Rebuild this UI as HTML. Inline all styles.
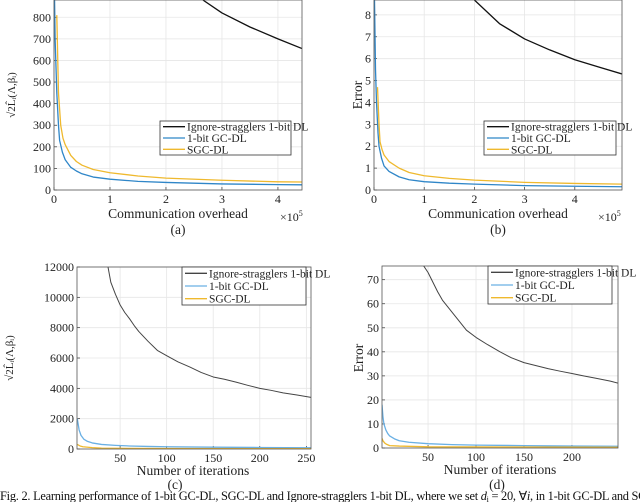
<!DOCTYPE html>
<html><head><meta charset="utf-8"><style>
html,body{margin:0;padding:0;background:#fff;width:640px;height:502px;overflow:hidden}
svg{position:absolute;left:0;top:0;font-family:"Liberation Serif",serif}
text{font-family:"Liberation Serif",serif}
</style></head><body>
<svg id="s" width="640" height="502" viewBox="0 0 640 502">
<text x="0" y="500" font-size="12.4" textLength="675" fill="#111">Fig. 2. Learning performance of 1-bit GC-DL, SGC-DL and Ignore-stragglers 1-bit DL, where we set <tspan font-style="italic">d</tspan><tspan font-size="8" dy="2">i</tspan><tspan dy="-2"> = 20, ∀</tspan><tspan font-style="italic">i</tspan>, in 1-bit GC-DL and SGC-DL</text>
</svg>
<script>
// ---- chart (a) ----
const aBlackX=[2.66,3.0,3.5,4.0,4.43];
const aBlackY=[880,820,755,700,655];
const aBlueX=[0.01,0.02,0.05,0.08,0.1,0.15,0.2,0.3,0.4,0.5,0.7,1,1.5,2,3,4,4.43];
const aBlueY=[880,700,450,300,230,175,140,105,88,75,60,50,40,35,28,25,24];
const aYelX=[0.05,0.08,0.12,0.16,0.2,0.3,0.4,0.5,0.7,1,1.5,2,3,4,4.43];
const aYelY=[810,450,300,240,210,160,132,115,95,80,65,55,45,38,37];
const aXTicks=[0,1,2,3,4];
const aYTicks=[0,100,200,300,400,500,600,700,800];
// ---- chart (b) ----
const bBlackX=[2.0,2.5,3.0,3.5,4.0,4.5,4.94];
const bBlackY=[8.68,7.6,6.9,6.4,5.95,5.6,5.3];
const bBlueX=[0.01,0.03,0.05,0.08,0.1,0.15,0.2,0.3,0.5,0.7,1,1.5,2,3,4,4.94];
const bBlueY=[8.68,5.5,4,2.6,2,1.45,1.1,0.85,0.6,0.47,0.38,0.31,0.27,0.2,0.17,0.15];
const bYelX=[0.07,0.1,0.12,0.16,0.2,0.3,0.5,0.7,1,1.5,2,3,4,4.94];
const bYelY=[4.7,3.0,2.2,1.85,1.6,1.3,1.0,0.8,0.65,0.53,0.45,0.35,0.3,0.27];
const bXTicks=[0,1,2,3,4];
const bYTicks=[0,1,2,3,4,5,6,7,8];
// ---- chart (c) ----
const cBlackX=[37,40,45,50,55,60,65,70,80,90,100,112,125,137,150,162,175,187,200,212,225,240,255];
const cBlackY=[12000,11000,10200,9500,9000,8600,8150,7750,7100,6500,6150,5750,5400,5050,4750,4600,4400,4200,4000,3870,3700,3560,3400];
const cBlueX=[4,6,8,11,15,20,30,45,60,80,100,150,200,255];
const cBlueY=[2000,1250,900,650,500,400,300,240,200,170,150,120,100,80];
const cYelX=[4,7,10,20,30,60,100,255];
const cYelY=[300,200,150,90,60,40,30,20];
const cXTicks=[50,100,150,200,250];
const cYTicks=[0,2000,4000,6000,8000,10000,12000];
// ---- chart (d) ----
const dBlackX=[45,50,55,60,65,70,80,90,100,112,125,137,150,162,175,187,200,212,225,240,248];
const dBlackY=[76,73,69,65,61.5,59,54,49,46,43,40,37.5,35.5,34.3,33,32,31,30,29,27.8,27];
const dBlueX=[2,3,4,6,8,10,15,20,30,50,75,100,150,200,248];
const dBlueY=[18,13,10,7.5,6,5,3.8,3,2.4,1.8,1.4,1.2,1,0.8,0.7];
const dYelX=[2,3,5,7,10,20,50,248];
const dYelY=[4,3,2,1.5,1,0.8,0.5,0.3];
const dXTicks=[50,100,150,200];
const dYTicks=[0,10,20,30,40,50,60,70];

const NS="http://www.w3.org/2000/svg";
const svg=document.getElementById('s');
function mk(tag,attrs,parent,txt){const e=document.createElementNS(NS,tag);for(const k in attrs)e.setAttribute(k,attrs[k]);if(txt!==undefined)e.textContent=txt;(parent||svg).appendChild(e);return e;}

function chart(o){
  const g=mk('g',{});
  
  
  const sx=v=>o.L+(v-o.x0)/(o.x1-o.x0)*(o.R-o.L);
  const sy=v=>o.B-(v-o.y0)/(o.y1-o.y0)*(o.B-o.T);
  mk('rect',{x:o.L,y:o.T,width:o.R-o.L,height:o.B-o.T,fill:'#fff'},g);
  o.xt.forEach(t=>{const x=sx(t);
    const l=mk('line',{x1:x,x2:x,y1:o.T,y2:o.B,stroke:'#e6e6e6','stroke-width':0.8},g);
    
    mk('line',{x1:x,x2:x,y1:o.B,y2:o.B-3,stroke:'#333','stroke-width':0.7},g);
    const tx=mk('text',{x:x,y:o.B+13,'font-size':12,'text-anchor':'middle',fill:'#222'},g,String(t));
    
  });
  o.yt.forEach(t=>{const y=sy(t);
    const l=mk('line',{x1:o.L,x2:o.R,y1:y,y2:y,stroke:'#e6e6e6','stroke-width':0.8},g);
    
    mk('line',{x1:o.L,x2:o.L+3,y1:y,y2:y,stroke:'#333','stroke-width':0.7},g);
    const tx=mk('text',{x:o.L-3,y:y+4,'font-size':12,'text-anchor':'end',fill:'#222'},g,String(t));
    
  });
  const cp='clip'+o.name;
  const cl=mk('clipPath',{id:cp},g);mk('rect',{x:o.L,y:o.T,width:o.R-o.L,height:o.B-o.T},cl);
  o.series.forEach(s=>{
    const d=s.x.map((v,i)=>(i?'L':'M')+sx(v).toFixed(2)+','+sy(s.y[i]).toFixed(2)).join(' ');
    const p=mk('path',{d:d,fill:'none',stroke:s.c,'stroke-width':s.w||1.3,'stroke-linejoin':'round','clip-path':'url(#'+cp+')'},g);
    
  });
  const ax=mk('rect',{x:o.L,y:o.T,width:o.R-o.L,height:o.B-o.T,fill:'none',stroke:'#555','stroke-width':0.8},g);
  
  const lg=mk('g',{},g);
  
  mk('rect',{x:o.lg[0],y:o.lg[1],width:o.lg[2],height:o.lg[3],fill:'#fff',stroke:'#333','stroke-width':0.8},lg);
  const names=['Ignore-stragglers 1-bit DL','1-bit GC-DL','SGC-DL'];
  const rh=o.lg[3]/3;
  o.series.forEach((s,i)=>{const y=o.lg[1]+rh*(i+0.5);
    const e=mk('g',{},lg);
    
    mk('line',{x1:o.lg[0]+3,x2:o.lg[0]+25,y1:y,y2:y,stroke:s.c,'stroke-width':1.3},e);
    mk('text',{x:o.lg[0]+27,y:y+4,'font-size':11.5,fill:'#222'},e,names[i]);
  });
  return {g,sx,sy};
}
const K='#111',Bc='#2f86c8',Yc='#efb92e';
chart({name:'chart-a',L:54,R:302,T:0,B:190,x0:0,x1:4.43,y0:0,y1:880,xt:aXTicks,yt:aYTicks,lg:[160,121,131,34],
 series:[{x:aBlackX,y:aBlackY,c:K,n:'line-ignore-stragglers'},{x:aBlueX,y:aBlueY,c:Bc,n:'line-1bit-gc-dl'},{x:aYelX,y:aYelY,c:Yc,n:'line-sgc-dl'}]});
chart({name:'chart-b',L:374,R:622,T:0,B:190,x0:0,x1:4.94,y0:0,y1:8.68,xt:bXTicks,yt:bYTicks,lg:[484,121,132,34],
 series:[{x:bBlackX,y:bBlackY,c:K,n:'line-ignore-stragglers'},{x:bBlueX,y:bBlueY,c:Bc,n:'line-1bit-gc-dl'},{x:bYelX,y:bYelY,c:Yc,n:'line-sgc-dl'}]});
chart({name:'chart-c',L:77,R:311,T:267,B:449,x0:3.7,x1:255,y0:0,y1:12000,xt:cXTicks,yt:cYTicks,lg:[182,267,124,38],
 series:[{x:cBlackX,y:cBlackY,c:'#444',n:'line-ignore-stragglers',w:1},{x:cBlueX,y:cBlueY,c:'#6ab0e4',n:'line-1bit-gc-dl'},{x:cYelX,y:cYelY,c:Yc,n:'line-sgc-dl'}]});
chart({name:'chart-d',L:382,R:618,T:266,B:448,x0:2,x1:248,y0:0,y1:75.7,xt:dXTicks,yt:dYTicks,lg:[488,266,124,38],
 series:[{x:dBlackX,y:dBlackY,c:'#444',n:'line-ignore-stragglers',w:1},{x:dBlueX,y:dBlueY,c:'#6ab0e4',n:'line-1bit-gc-dl'},{x:dYelX,y:dYelY,c:Yc,n:'line-sgc-dl'}]});

function label(x,y,txt,name,rot,size){
  const t=mk('text',{x:x,y:y,'font-size':size||13.5,'text-anchor':'middle',fill:'#222',transform:rot?'rotate(-90 '+x+' '+y+')':''},svg,txt);
  return t;
}
label(178,218,'Communication overhead','x-axis-title-a');
label(498,218,'Communication overhead','x-axis-title-b');
label(193,475,'Number of iterations','x-axis-title-c');
label(500,474,'Number of iterations','x-axis-title-d');
label(178,234,'(a)','subcaption-a');label(498,234,'(b)','subcaption-b');
label(175,489,'(c)','subcaption-c');label(497,489,'(d)','subcaption-d');
label(362,95,'Error','y-axis-title-b',true);
label(363,358,'Error','y-axis-title-d',true);
label(15,95,'√2L̂ᵢ(Λ,βᵢ)','y-axis-title-a',true,11);
label(13,358,'√2L̂ᵢ(Λ,βᵢ)','y-axis-title-c',true,11);
const e1=mk('text',{x:280,y:221,'font-size':12,fill:'#222'},svg);e1.innerHTML='×10<tspan font-size="8" dy="-5">5</tspan>';

const e2=mk('text',{x:598,y:221,'font-size':12,fill:'#222'},svg);e2.innerHTML='×10<tspan font-size="8" dy="-5">5</tspan>';

</script>
</body></html>
